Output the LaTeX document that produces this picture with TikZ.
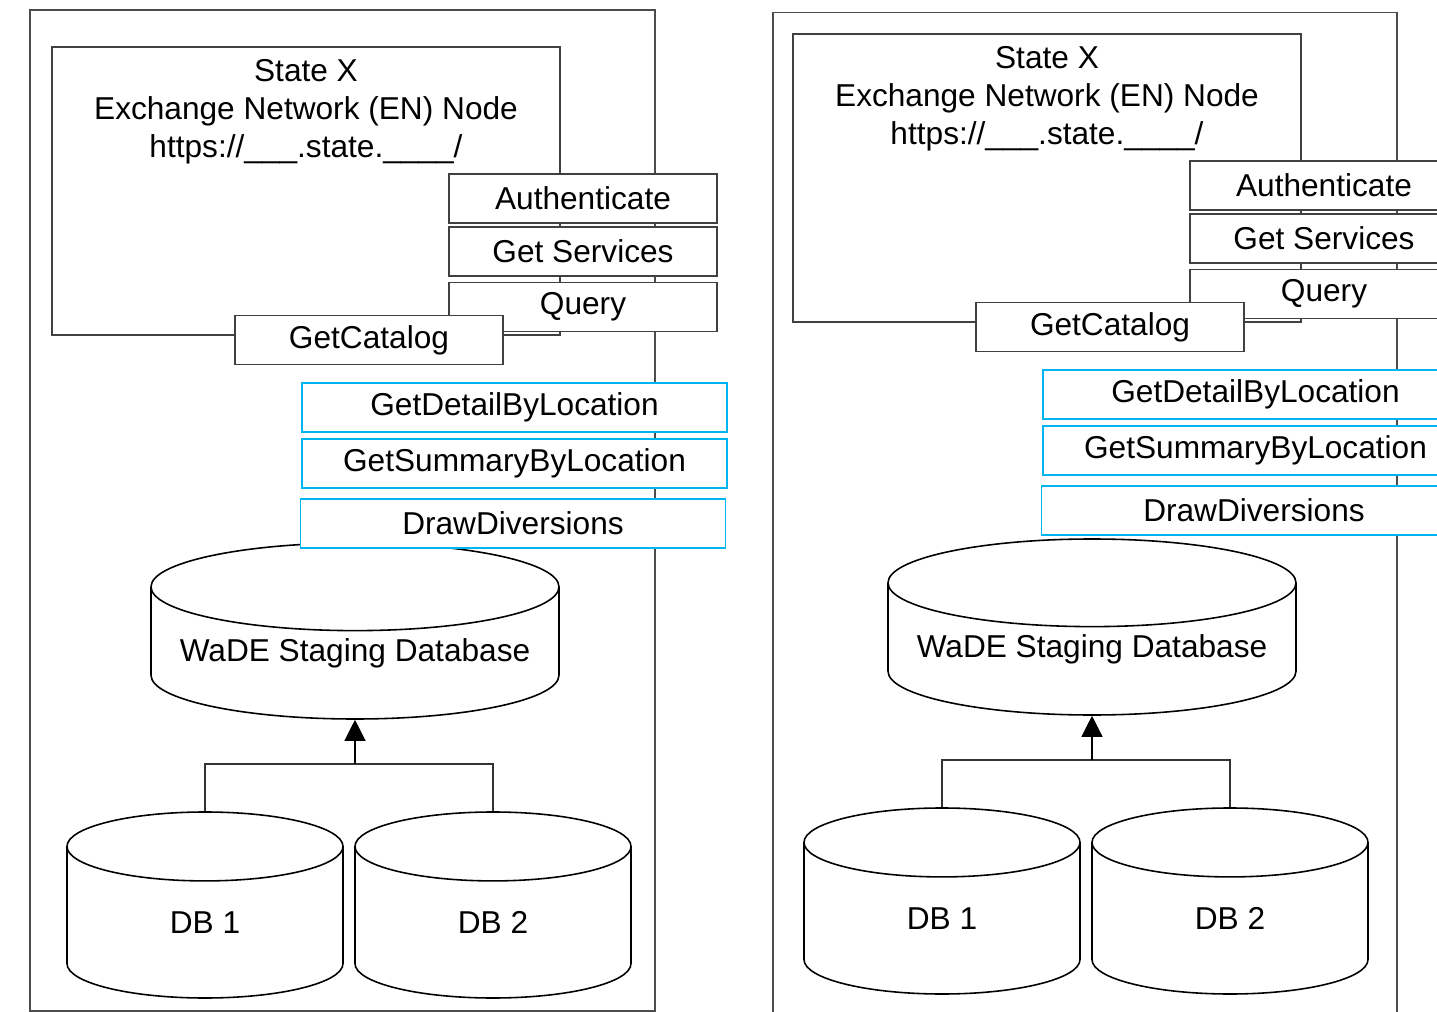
\documentclass[tikz,border=0pt]{standalone}
\usepackage{fontspec}
\setmainfont{Liberation Sans}
\usepackage{tikz}
\usetikzlibrary{positioning,shapes.geometric,arrows.meta}
\definecolor{wadeblue}{RGB}{0,180,240}

\begin{document}
\begin{tikzpicture}[font=\fontsize{18}{21.8}\selectfont,
                       panel node/.style={rectangle,draw=black!70,line width=0.7pt,inner sep=0pt},
                       en node/.style={rectangle,draw=black!75,fill=white,line width=0.7pt,minimum width=10.16cm,minimum height=5.76cm},
                       en text/.style={anchor=north,align=center,inner sep=7pt},
                       op node/.style={rectangle,draw=black!75,fill=white,line width=0.7pt,minimum width=5.36cm,minimum height=0.98cm,inner sep=0pt},
                       ws node/.style={rectangle,draw=wadeblue,fill=white,line width=0.7pt,minimum width=8.50cm,minimum height=0.98cm,inner sep=0pt},
                       db node/.style={cylinder,shape border rotate=90,draw,fill=white,line width=0.9pt,inner sep=0pt,anchor=shape center},
                       wade db/.style={db node,minimum width=8.16cm,minimum height=3.52cm,aspect=0.25},
                       src db/.style={db node,minimum width=5.52cm,minimum height=3.72cm,aspect=0.98},
                       link/.style={draw=black!80,line width=0.7pt}
                      ]
  \useasboundingbox (0.00,0.00) rectangle (28.74,-20.24);
  \clip (0.00,0.00) rectangle (28.74,-20.24);

  % left state
  \node[panel node,minimum width=12.50cm,minimum height=20.02cm] (panelL) at (6.85,-10.21) {};
  \node[en node,label={[en text]north:State X\\Exchange Network (EN) Node\\https://\_\_\_.state.\_\_\_\_/}] (enL) at (6.12,-3.82) {};
  \node[op node] (authL) at (11.66,-3.97) {Authenticate};
  \node[op node] (servL) at (11.66,-5.03) {Get Services};
  \node[op node] (queryL) at (11.66,-6.14) {Query};
  \node[op node] (catL) at (7.38,-6.80) {GetCatalog};
  \node[wade db] (wadeL) at (7.10,-12.62) {WaDE Staging Database};
  \node[ws node] (detailL) at (10.29,-8.15) {GetDetailByLocation};
  \node[ws node] (summL) at (10.29,-9.27) {GetSummaryByLocation};
  \node[ws node] (drawL) at (10.26,-10.47) {DrawDiversions};
  \node[src db] (dbL1) at (4.10,-18.10) {DB 1};
  \node[src db] (dbL2) at (9.86,-18.10) {DB 2};
  \coordinate (joinL) at (7.10,-15.28);

  \draw[link] (dbL1.north) |- (joinL) -| (dbL2.north);
  \path (joinL) edge[link,draw=black,-{Triangle[length=0.42cm,width=0.42cm]}] (wadeL.south);

  % right state
  \node[panel node,minimum width=12.48cm,minimum height=20.55cm] (panelR) at (21.70,-10.53) {};
  \node[en node,label={[en text]north:State X\\Exchange Network (EN) Node\\https://\_\_\_.state.\_\_\_\_/}] (enR) at (20.94,-3.56) {};
  \node[op node] (authR) at (26.48,-3.71) {Authenticate};
  \node[op node] (servR) at (26.48,-4.77) {Get Services};
  \node[op node] (queryR) at (26.48,-5.88) {Query};
  \node[op node] (catR) at (22.20,-6.54) {GetCatalog};
  \node[wade db] (wadeR) at (21.84,-12.54) {WaDE Staging Database};
  \node[ws node] (detailR) at (25.11,-7.89) {GetDetailByLocation};
  \node[ws node] (summR) at (25.11,-9.01) {GetSummaryByLocation};
  \node[ws node] (drawR) at (25.08,-10.21) {DrawDiversions};
  \node[src db] (dbR1) at (18.84,-18.02) {DB 1};
  \node[src db] (dbR2) at (24.60,-18.02) {DB 2};
  \coordinate (joinR) at (21.84,-15.20);

  \draw[link] (dbR1.north) |- (joinR) -| (dbR2.north);
  \path (joinR) edge[link,draw=black,-{Triangle[length=0.42cm,width=0.42cm]}] (wadeR.south);
\end{tikzpicture}
\end{document}
